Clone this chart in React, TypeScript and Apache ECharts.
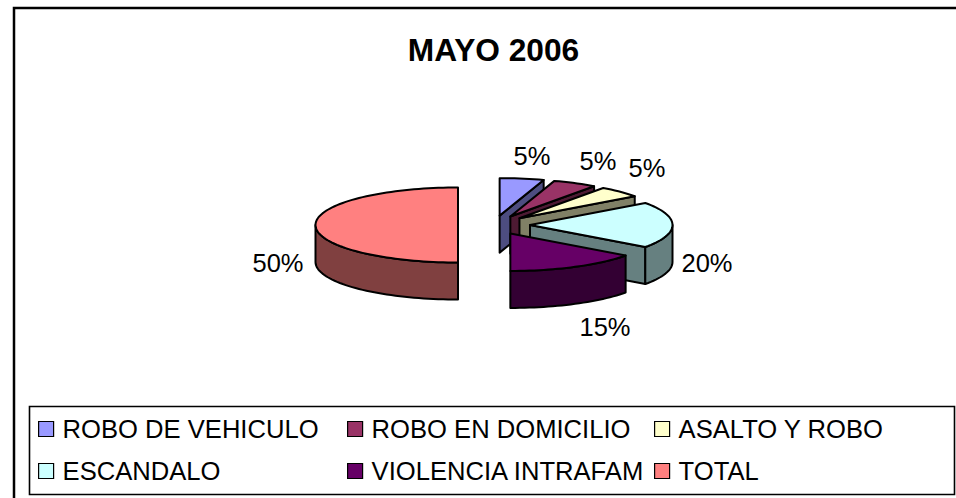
import React, { useEffect, useRef } from "react";
import * as echarts from "echarts";

const categories = ["ROBO DE VEHICULO", "ROBO EN DOMICILIO", "ASALTO Y ROBO", "ESCANDALO", "VIOLENCIA INTRAFAM", "TOTAL"];
const percentages = [5, 5, 5, 20, 15, 50];
const topColors = ["#9999FF", "#993366", "#FFFFCC", "#CCFFFF", "#660066", "#FF8080"];
const sideColors = ["#4D4D80", "#4D1A33", "#808066", "#668080", "#330033", "#804040"];

const CX = 494, CY = 225, RX = 142.5, RY = 37.5, DEPTH = 37, EXPLODE = 36;
const labelAnchors = [[532, 156], [598, 161], [647, 168], [707, 263], [605, 327], [278, 263]];
const legendAnchors = [[38, 416], [347, 416], [654, 416], [38, 458], [347, 458], [654, 458]];

const total = percentages.reduce((a, b) => a + b, 0);
const rad = (d: number) => (d * Math.PI) / 180;

function renderSlice(index: number, api: any) {
  const value = api.value(0);
  const before = percentages.slice(0, index).reduce((a, b) => a + b, 0);
  const a0 = (before / total) * 360;
  const a1 = a0 + (value / total) * 360;
  const mid = (a0 + a1) / 2;
  const ox = CX + EXPLODE * Math.sin(rad(mid));
  const oy = CY - (EXPLODE * RY / RX) * Math.cos(rad(mid));
  const pt = (a: number, dz = 0): number[] => [ox + RX * Math.sin(rad(a)), oy - RY * Math.cos(rad(a)) + dz];
  const arc = (s: number, e: number, dz = 0) => {
    const out: number[][] = [];
    const n = Math.max(2, Math.ceil(Math.abs(e - s) / 2));
    for (let i = 0; i <= n; i++) out.push(pt(s + ((e - s) * i) / n, dz));
    return out;
  };
  const stroke = { stroke: "#000", lineWidth: 2, lineJoin: "round" };
  const children: any[] = [];
  const poly = (points: number[][], fill: string) =>
    children.push({ type: "polygon", shape: { points }, style: { fill, ...stroke } });
  const side = sideColors[index];
  // radial wall on the clockwise edge, visible when it faces the viewer
  if (a1 > 0 && a1 < 180) {
    const p = pt(a1);
    poly([[ox, oy], p, [p[0], p[1] + DEPTH], [ox, oy + DEPTH]], side);
  }
  // outer rim wall (front half of the ellipse)
  const rs = Math.max(a0, 90), re = Math.min(a1, 270);
  if (re > rs) poly([...arc(rs, re), ...arc(re, rs, DEPTH)], side);
  // top face
  poly([[ox, oy], ...arc(a0, a1)], topColors[index]);
  children.push({
    type: "text",
    style: {
      text: `${Math.round((value / total) * 100)}%`,
      x: labelAnchors[index][0],
      y: labelAnchors[index][1],
      fill: "#000",
      font: "25.5px 'Liberation Sans'",
      align: "center",
      verticalAlign: "middle",
    },
  });
  return { type: "group", children };
}

export default function App() {
  const ref = useRef<HTMLDivElement>(null);
  useEffect(() => {
    document.body.style.margin = "0";
    const chart = echarts.init(ref.current!, null, { renderer: "svg" });
    chart.setOption({
      animation: false,
      backgroundColor: "#fff",
      title: {
        text: "MAYO 2006",
        left: 488.5,
        top: 29,
        textAlign: "center",
        textStyle: { fontFamily: "Liberation Sans", fontSize: 31.7, fontWeight: "bold", color: "#000" },
      },
      graphic: [
        { type: "rect", z: -10, shape: { x: 14, y: 8, width: 1100, height: 800 }, style: { fill: "#fff", stroke: "#000", lineWidth: 2.5 } },
        { type: "rect", z: -9, shape: { x: 29.5, y: 406.5, width: 925, height: 88 }, style: { fill: "#fff", stroke: "#000", lineWidth: 1.6 } },
      ],
      legend: categories.map((name, i) => ({
        data: [name],
        left: legendAnchors[i][0],
        top: legendAnchors[i][1],
        orient: "horizontal",
        padding: 0,
        itemWidth: 15,
        itemHeight: 15,
        itemGap: 0,
        selectedMode: false,
        icon: "rect",
        itemStyle: { borderColor: "#000", borderWidth: 1.2 },
        textStyle: { fontFamily: "Liberation Sans", fontSize: 25.6, color: "#000", padding: [0, 0, 0, 4] },
      })),
      series: categories.map((name, i) => ({
        type: "custom",
        name,
        coordinateSystem: "none",
        silent: true,
        itemStyle: { color: topColors[i] },
        data: [[percentages[i]]],
        renderItem: (_p: any, api: any) => renderSlice(i, api),
      })),
    });
    return () => chart.dispose();
  }, []);
  return <div ref={ref} style={{ width: 956, height: 498, position: "absolute", left: 0, top: 0 }} />;
}
